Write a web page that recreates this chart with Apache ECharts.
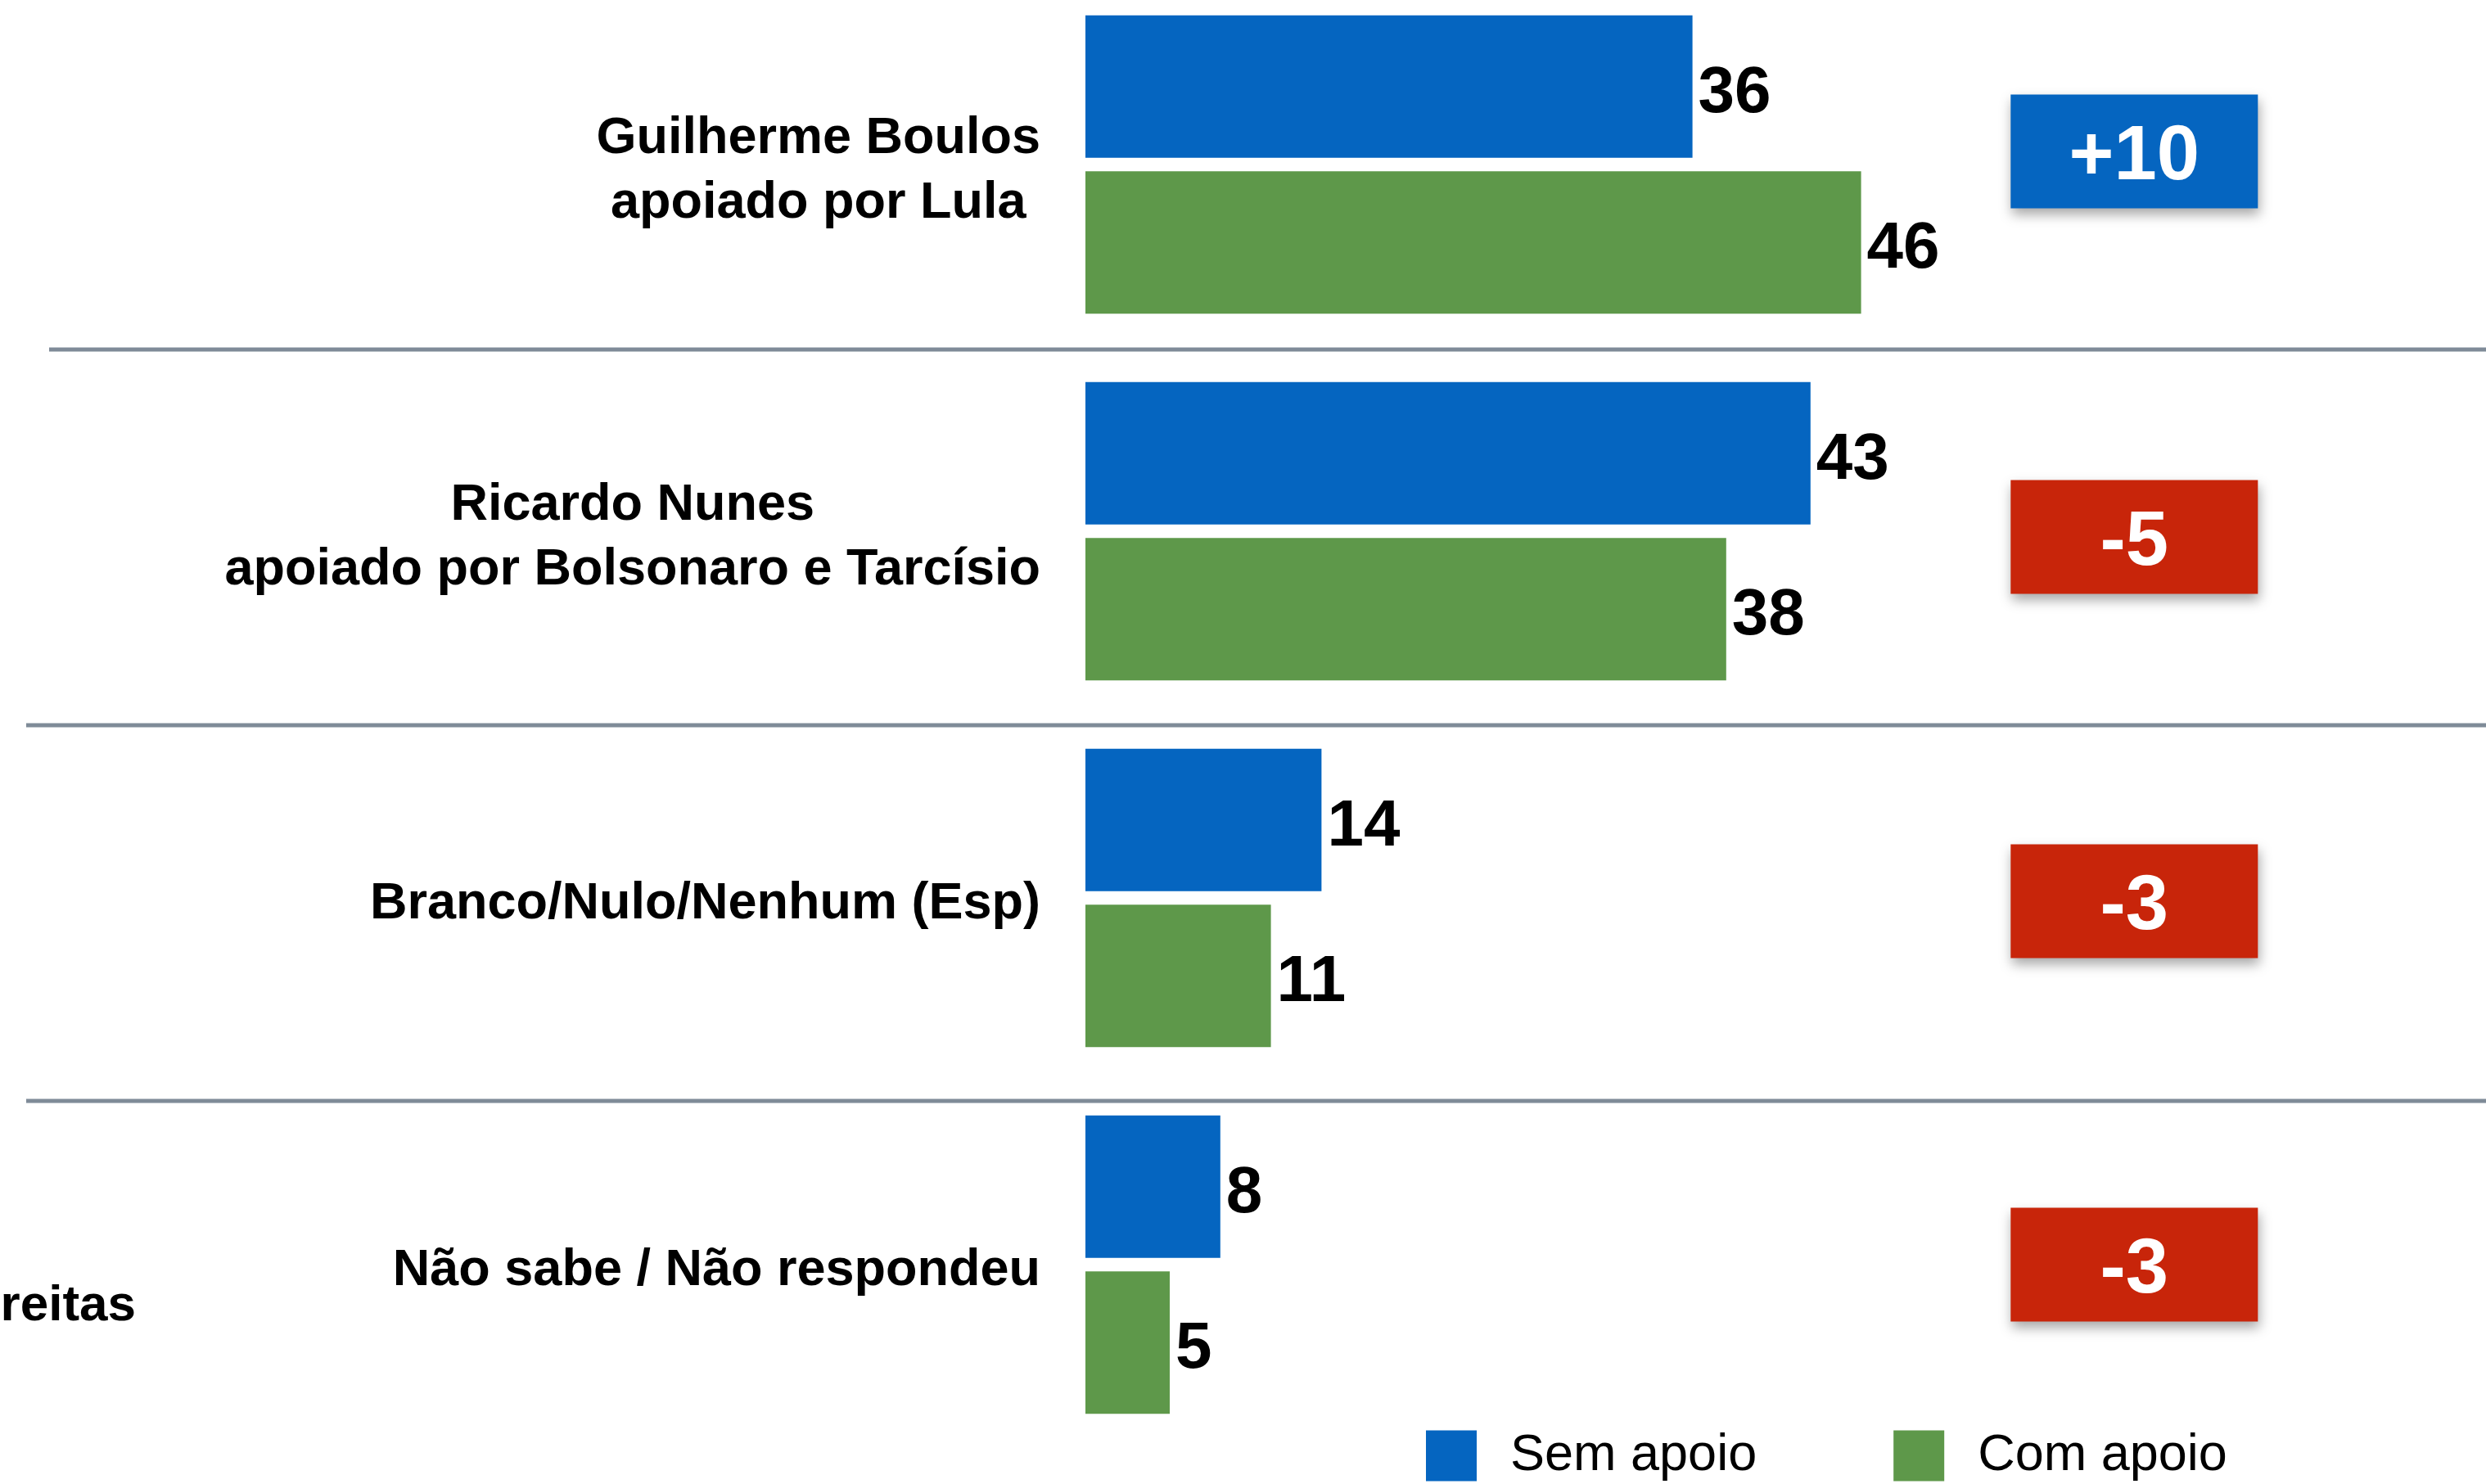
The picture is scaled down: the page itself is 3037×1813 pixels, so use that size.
<!DOCTYPE html>
<html>
<head>
<meta charset="utf-8">
<script src="https://cdn.jsdelivr.net/npm/echarts@6/dist/echarts.min.js"></script>
<style>
html,body{margin:0;padding:0;background:#fff;}
#chart{width:3037px;height:1813px;}
</style>
</head>
<body>
<div id="chart"></div>
<script>
// ---- data ----
const categories = [
  'Guilherme Boulos\napoiado por Lula',
  'Ricardo Nunes\napoiado por Bolsonaro e Tarcísio',
  'Branco/Nulo/Nenhum (Esp)',
  'Não sabe / Não respondeu'
];
const semApoio = [36, 43, 14, 8];
const comApoio = [46, 38, 11, 5];
const diffs = [10, -5, -3, -3];
const seriesNames = ['Sem apoio', 'Com apoio'];
const sideText = 'Freitas';

// ---- style ----
const FONT = '"Liberation Sans", Arial, Helvetica, sans-serif';
const BLUE = '#0565c0';
const GREEN = '#5e984a';
const RED = '#c8250a';
const SEP = '#7f8b98';
const BADGE_X = 62.2;
const BADGE_DY = [-16, 7, 4, 0];

const chart = echarts.init(document.getElementById('chart'), null, {renderer: 'canvas'});

const valueLabel = {
  show: true, position: 'right', distance: 7, offset: [0, 9],
  fontFamily: FONT, fontSize: 80, fontWeight: 'bold', color: '#000'
};

chart.setOption({
  animation: false,
  backgroundColor: '#fff',
  grid: {left: 1326, right: 63, top: -23, height: 1792, containLabel: false, outerBoundsMode: 'none'},
  xAxis: {
    type: 'value', min: 0, max: 80,
    show: false
  },
  yAxis: {
    type: 'category', data: categories, inverse: true,
    axisLine: {show: false}, axisTick: {show: false}, splitLine: {show: false},
    axisLabel: {
      margin: 55,
      padding: [16, 0, 0, 0],
      fontFamily: FONT, fontSize: 63, fontWeight: 'bold', color: '#000', lineHeight: 79,
      formatter: v => v.split('\n').map(s => '{c|' + s + '}').join('\n'),
      rich: {
        c: {align: 'center', fontFamily: FONT, fontSize: 63, fontWeight: 'bold', color: '#000', lineHeight: 79}
      }
    }
  },
  legend: {
    data: seriesNames,
    left: 1742, top: 1747, padding: 0,
    itemWidth: 62, itemHeight: 62, itemGap: 167,
    icon: 'rect',
    textStyle: {fontFamily: FONT, fontSize: 63, color: '#000', padding: [0, 0, 0, 36]}
  },
  series: [
    {
      name: seriesNames[0], type: 'bar', data: semApoio,
      barWidth: 174, barGap: '9.5%',
      itemStyle: {color: BLUE},
      label: valueLabel,
      emphasis: {disabled: true}
    },
    {
      name: seriesNames[1], type: 'bar', data: comApoio,
      barWidth: 174, barGap: '9.5%',
      itemStyle: {color: GREEN},
      label: valueLabel,
      emphasis: {disabled: true}
    },
    {
      name: 'diff', type: 'scatter', z: 5,
      symbol: 'rect', symbolSize: [302, 139],
      data: diffs.map((d, i) => ({
        value: [BADGE_X, i],
        diff: d,
        symbolOffset: [0, BADGE_DY[i]],
        itemStyle: {color: d > 0 ? BLUE : RED}
      })),
      itemStyle: {
        opacity: 1,
        shadowColor: 'rgba(0,0,0,0.35)', shadowBlur: 14, shadowOffsetX: 2, shadowOffsetY: 7
      },
      label: {
        show: true, position: 'inside', offset: [0, 8],
        fontFamily: FONT, fontSize: 94, fontWeight: 'bold', color: '#fff',
        formatter: p => (p.data.diff > 0 ? '+' : '') + p.data.diff
      },
      emphasis: {disabled: true}
    }
  ],
  graphic: [
    {type: 'line', shape: {x1: 60, y1: 427, x2: 3037, y2: 427}, style: {stroke: SEP, lineWidth: 5}},
    {type: 'line', shape: {x1: 32, y1: 886, x2: 3037, y2: 886}, style: {stroke: SEP, lineWidth: 5}},
    {type: 'line', shape: {x1: 32, y1: 1345, x2: 3037, y2: 1345}, style: {stroke: SEP, lineWidth: 5}},
    {type: 'text', x: 166, y: 1596, style: {text: sideText, fontFamily: FONT, fontSize: 62, fontWeight: 'bold', fill: '#000', textAlign: 'right', textVerticalAlign: 'middle'}}
  ]
});
</script>
</body>
</html>
